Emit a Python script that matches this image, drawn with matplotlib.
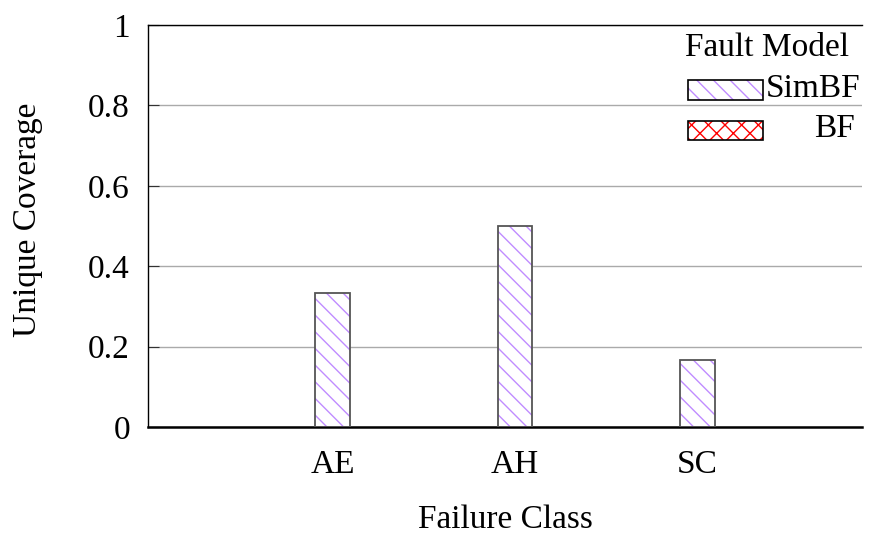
import matplotlib.pyplot as plt
from matplotlib.patches import Rectangle

classes = ["AE", "AH", "SC"]
simbf = [0.333, 0.5, 0.167]
bf = [0.0, 0.0, 0.0]

plt.rcParams['font.family'] = ['Liberation Serif', 'DejaVu Serif']
plt.rcParams['hatch.linewidth'] = 1.0
fs = 24
purple = '#c08cff'

fig = plt.figure(figsize=(8.74, 5.38), dpi=100)
ax = fig.add_axes([148/874, 1 - 427/538, (862 - 148)/874, (427 - 25)/538])

x = range(len(classes))
w = 0.19
# hatched fill, then a dark outline on top
ax.bar(x, simbf, w, color='white', edgecolor=purple, hatch='\\\\', linewidth=0, zorder=2)
ax.bar(x, simbf, w, fill=False, edgecolor='#555555', linewidth=1.3, zorder=3)
ax.bar([i + w for i in x], bf, w, color='white', edgecolor='red', hatch='xx', linewidth=0, zorder=2)

ax.set_xlim(-1.01, 2.9)
ax.set_ylim(0, 1)
ax.set_yticks([0, 0.2, 0.4, 0.6, 0.8, 1])
ax.set_yticklabels(["0", "0.2", "0.4", "0.6", "0.8", "1"], fontsize=fs)
ax.set_xticks(list(x))
ax.set_xticklabels(classes, fontsize=fs)
ax.tick_params(axis='x', length=0, pad=16)
ax.tick_params(axis='y', direction='in', length=8, pad=13, color='#333333')
ax.yaxis.grid(True, color='#aaaaaa', linewidth=1)
ax.set_axisbelow(True)
ax.spines['right'].set_visible(False)
ax.spines['bottom'].set_linewidth(1.8)
ax.spines['top'].set_linewidth(1.0)
ax.spines['left'].set_linewidth(1.0)
ax.set_ylabel("Unique Coverage", fontsize=fs, va='center')
ax.set_xlabel("Failure Class", fontsize=fs, va='center')
ax.yaxis.set_label_coords(-0.168, 0.515)
ax.xaxis.set_label_coords(0.5, -0.231)

# legend block drawn in figure pixels
def fx(px):
    return px / 874

def fy(py):
    return 1 - py / 538

def key(top, bottom, color, hatch):
    for fill in (True, False):
        fig.patches.append(Rectangle((fx(688), fy(bottom)), fx(763) - fx(688), fy(top) - fy(bottom),
                                     transform=fig.transFigure,
                                     facecolor='white' if fill else 'none',
                                     edgecolor=color if fill else 'black',
                                     hatch=hatch if fill else None,
                                     linewidth=0 if fill else 1.2, zorder=5))

fig.text(fx(767), fy(48), "Fault Model", fontsize=fs, ha='center', va='center')
key(80, 100, purple, '\\\\')
fig.text(fx(860), fy(89), "SimBF", fontsize=fs, ha='right', va='center')
key(121, 140, 'red', 'xx')
fig.text(fx(855), fy(129), "BF", fontsize=fs, ha='right', va='center')

plt.savefig("out.png", dpi=100)
